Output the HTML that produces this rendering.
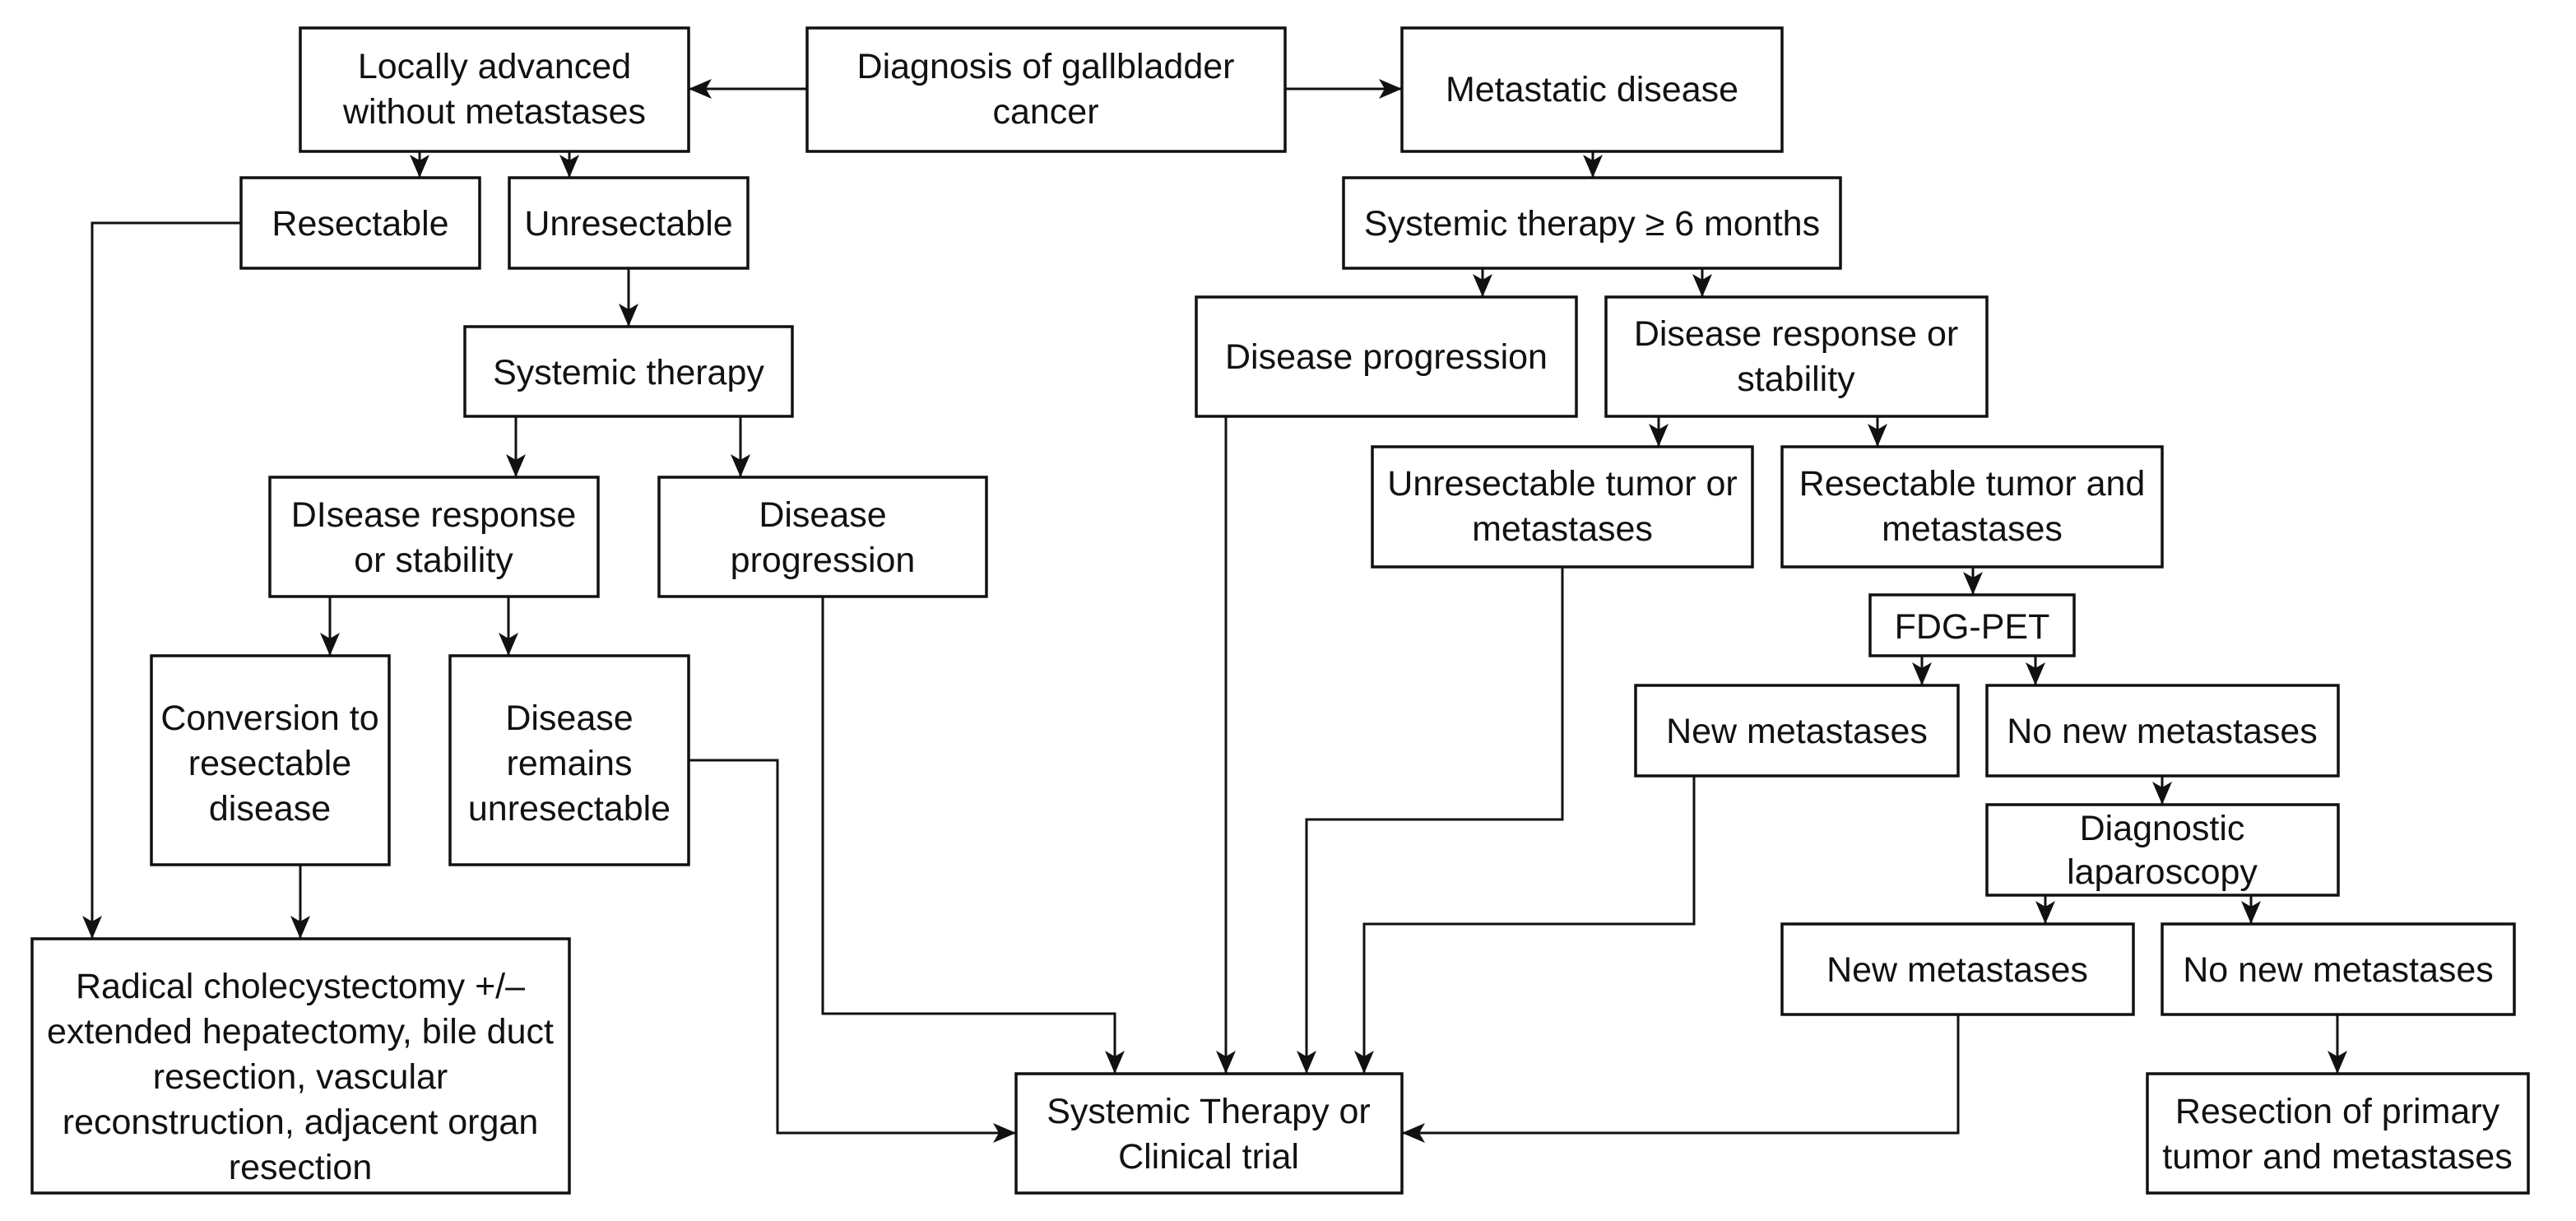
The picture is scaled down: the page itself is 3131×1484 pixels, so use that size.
<!DOCTYPE html>
<html><head><meta charset="utf-8"><style>
html,body{margin:0;padding:0;background:#fff;}
svg{display:block;}
text{font-family:"Liberation Sans",Arial,sans-serif;font-size:43px;fill:#111;text-anchor:middle;}
rect{fill:#fff;stroke:#111;stroke-width:3.5;}
.l{fill:none;stroke:#111;stroke-width:3;}
</style></head><body>
<svg width="3131" height="1484" viewBox="0 0 3131 1484" xmlns="http://www.w3.org/2000/svg">
<defs>
<marker id="a" markerUnits="userSpaceOnUse" markerWidth="30" markerHeight="30" viewBox="0 0 30 30" refX="28" refY="15" orient="auto">
<path d="M0,3 L28,15 L0,27 L7,15 Z" fill="#111"/>
</marker>
</defs>

<g class="l" marker-end="url(#a)">
<path d="M981,108 L837,108"/>
<path d="M1562,108 L1704,108"/>
<path d="M510,184 L510,216"/>
<path d="M692,184 L692,216"/>
<path d="M293,271 L112,271 L112,1141"/>
<path d="M764,326 L764,397"/>
<path d="M627,506 L627,580"/>
<path d="M900,506 L900,580"/>
<path d="M401,725 L401,797"/>
<path d="M618,725 L618,797"/>
<path d="M365,1051 L365,1141"/>
<path d="M1000,725 L1000,1232 L1355,1232 L1355,1305"/>
<path d="M837,924 L945,924 L945,1377 L1235,1377"/>
<path d="M1490,506 L1490,1305"/>
<path d="M1899,689 L1899,996 L1588,996 L1588,1305"/>
<path d="M2059,943 L2059,1123 L1658,1123 L1658,1305"/>
<path d="M2380,1233 L2380,1377 L1704,1377"/>
<path d="M1936,184 L1936,216"/>
<path d="M1802,326 L1802,361"/>
<path d="M2069,326 L2069,361"/>
<path d="M2016,506 L2016,543"/>
<path d="M2282,506 L2282,543"/>
<path d="M2398,689 L2398,723"/>
<path d="M2336,797 L2336,833"/>
<path d="M2474,797 L2474,833"/>
<path d="M2628,943 L2628,978"/>
<path d="M2486,1088 L2486,1123"/>
<path d="M2736,1088 L2736,1123"/>
<path d="M2841,1233 L2841,1305"/>
</g>

<rect x="365" y="34" width="472" height="150"/>
<text x="601" y="95">Locally advanced</text><text x="601" y="150">without metastases</text>

<rect x="981" y="34" width="581" height="150"/>
<text x="1271" y="95">Diagnosis of gallbladder</text><text x="1271" y="150">cancer</text>

<rect x="1704" y="34" width="462" height="150"/>
<text x="1935" y="123">Metastatic disease</text>

<rect x="293" y="216" width="290" height="110"/>
<text x="438" y="286">Resectable</text>

<rect x="619" y="216" width="290" height="110"/>
<text x="764" y="286">Unresectable</text>

<rect x="565" y="397" width="398" height="109"/>
<text x="764" y="467">Systemic therapy</text>

<rect x="328" y="580" width="399" height="145"/>
<text x="527" y="640">DIsease response</text><text x="527" y="695">or stability</text>

<rect x="801" y="580" width="398" height="145"/>
<text x="1000" y="640">Disease</text><text x="1000" y="695">progression</text>

<rect x="184" y="797" width="289" height="254"/>
<text x="328" y="887">Conversion to</text><text x="328" y="942">resectable</text><text x="328" y="997">disease</text>

<rect x="547" y="797" width="290" height="254"/>
<text x="692" y="887">Disease</text><text x="692" y="942">remains</text><text x="692" y="997">unresectable</text>

<rect x="39" y="1141" width="653" height="309"/>
<text x="365" y="1213">Radical cholecystectomy +/–</text>
<text x="365" y="1268">extended hepatectomy, bile duct</text>
<text x="365" y="1323">resection, vascular</text>
<text x="365" y="1378">reconstruction, adjacent organ</text>
<text x="365" y="1433">resection</text>

<rect x="1235" y="1305" width="469" height="145"/>
<text x="1469" y="1365">Systemic Therapy or</text><text x="1469" y="1420">Clinical trial</text>

<rect x="1633" y="216" width="604" height="110"/>
<text x="1935" y="286">Systemic therapy ≥ 6 months</text>

<rect x="1454" y="361" width="462" height="145"/>
<text x="1685" y="448">Disease progression</text>

<rect x="1952" y="361" width="463" height="145"/>
<text x="2183" y="420">Disease response or</text><text x="2183" y="475">stability</text>

<rect x="1668" y="543" width="462" height="146"/>
<text x="1899" y="602">Unresectable tumor or</text><text x="1899" y="657">metastases</text>

<rect x="2166" y="543" width="462" height="146"/>
<text x="2397" y="602">Resectable tumor and</text><text x="2397" y="657">metastases</text>

<rect x="2273" y="723" width="248" height="74"/>
<text x="2397" y="776">FDG-PET</text>

<rect x="1988" y="833" width="392" height="110"/>
<text x="2184" y="903">New metastases</text>

<rect x="2415" y="833" width="427" height="110"/>
<text x="2628" y="903">No new metastases</text>

<rect x="2415" y="978" width="427" height="110"/>
<text x="2628" y="1021">Diagnostic</text><text x="2628" y="1074">laparoscopy</text>

<rect x="2166" y="1123" width="427" height="110"/>
<text x="2379" y="1193">New metastases</text>

<rect x="2628" y="1123" width="428" height="110"/>
<text x="2842" y="1193">No new metastases</text>

<rect x="2610" y="1305" width="463" height="145"/>
<text x="2841" y="1365">Resection of primary</text><text x="2841" y="1420">tumor and metastases</text>
</svg>
</body></html>
